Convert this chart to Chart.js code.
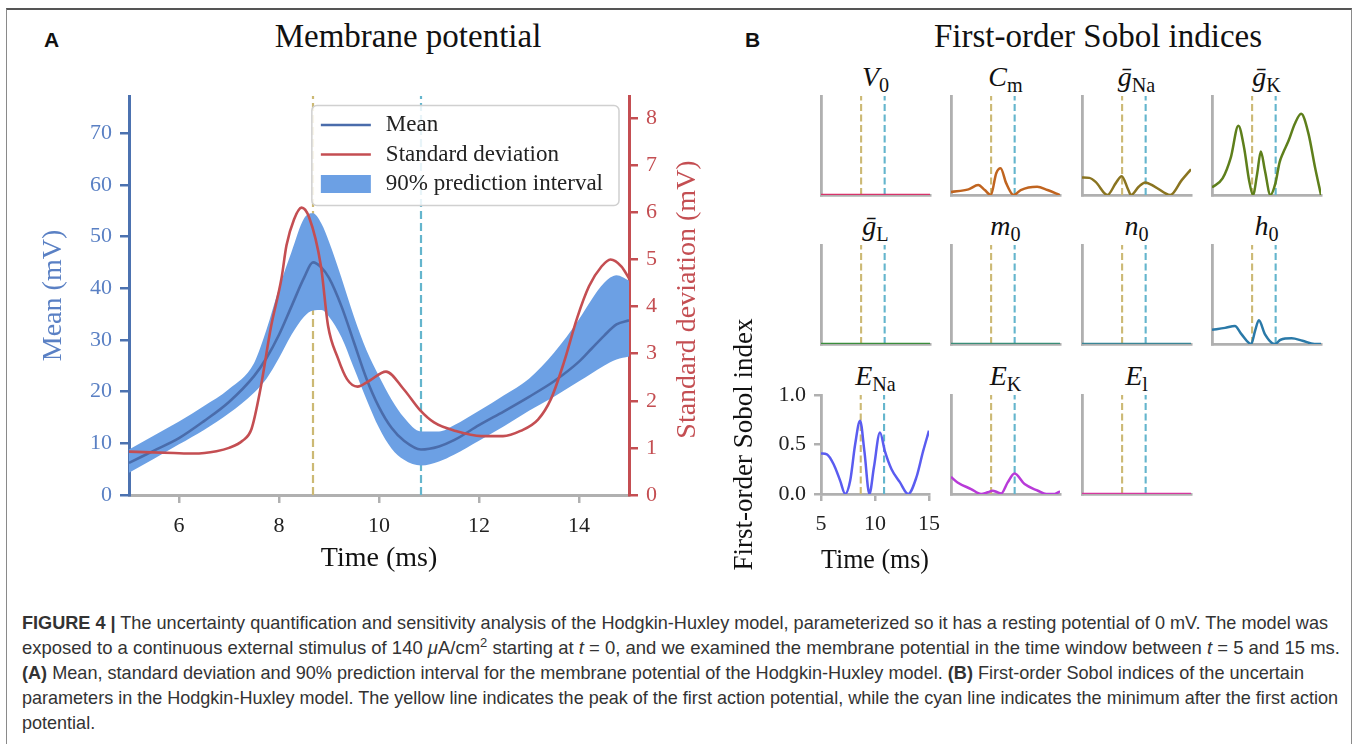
<!DOCTYPE html>
<html>
<head>
<meta charset="utf-8">
<script src="https://cdn.jsdelivr.net/npm/chart.js@4.4.1/dist/chart.umd.min.js"></script>
<style>
  body { margin: 0; width: 1358px; height: 744px; overflow: hidden; background: #fff; position: relative; font-family: "Liberation Serif", serif; }
  .frame { position: absolute; left: 6px; top: 8px; width: 1344px; height: 800px; border: 1.5px solid #8a8a8a; border-top: 2px solid #555; }
  canvas { position: absolute; }
  .lbl { position: absolute; font: bold 21px "Liberation Sans", Arial, sans-serif; line-height: 21px; color: #111; }
  .ttl { position: absolute; font-size: 33px; line-height: 33px; color: #111; transform: translateX(-50%); white-space: nowrap; }
  .sub { position: absolute; font-size: 28px; line-height: 28px; font-style: italic; transform: translateX(-50%); white-space: nowrap; color: #111; }
  .sub span { font-style: normal; font-size: 0.72em; position: relative; top: 0.3em; }
  .cap { position: absolute; left: 22px; font-family: "Liberation Sans Narrow", "Liberation Sans", Arial, sans-serif; font-size: 18.5px; line-height: 25px; color: #333; white-space: nowrap; transform-origin: 0 50%; }
  .cap sup { font-size: 0.7em; line-height: 0; }
</style>
</head>
<body>
<div class="frame"></div>

<div class="lbl" style="left:44px;top:29px">A</div>
<div class="lbl" style="left:745px;top:29px">B</div>
<div class="ttl" style="left:408px;top:20px">Membrane potential</div>
<div class="ttl" style="left:1098px;top:20px">First-order Sobol indices</div>

<canvas id="chartA" width="720" height="600" style="left:0;top:0;width:720px;height:600px"></canvas>
<div id="sobolBox"></div>

<div class="cap" style="top:610px" data-right="1328"><b>FIGURE 4 |</b> The uncertainty quantification and sensitivity analysis of the Hodgkin-Huxley model, parameterized so it has a resting potential of 0 mV. The model was</div>
<div class="cap" style="top:635px" data-right="1340">exposed to a continuous external stimulus of 140 <i>μ</i>A/cm<sup>2</sup> starting at <i>t</i> = 0, and we examined the membrane potential in the time window between <i>t</i> = 5 and 15 ms.</div>
<div class="cap" style="top:660px" data-right="1304"><b>(A)</b> Mean, standard deviation and 90% prediction interval for the membrane potential of the Hodgkin-Huxley model. <b>(B)</b> First-order Sobol indices of the uncertain</div>
<div class="cap" style="top:685px" data-right="1338">parameters in the Hodgkin-Huxley model. The yellow line indicates the peak of the first action potential, while the cyan line indicates the minimum after the first action</div>
<div class="cap" style="top:710px">potential.</div>

<script>
// ---- panel A: membrane potential ----
const timeA  = [5, 5.5, 6, 6.5, 7, 7.5, 7.75, 8, 8.25, 8.5, 8.68, 8.85, 9, 9.25, 9.5, 9.75, 10, 10.25, 10.5, 10.84, 11.2, 11.5, 12, 12.5, 13, 13.5, 14, 14.25, 14.5, 14.75, 15];
const meanA  = [6.2, 8.6, 11, 14.3, 18, 23, 26.5, 31, 36.5, 42, 45, 44, 42, 36.5, 29.5, 22.5, 17, 13, 10.5, 8.8, 9.4, 10.6, 13.5, 16.2, 19, 22, 25.8, 28.3, 30.8, 33, 33.8];
const lowerA = [4.3, 7, 9.8, 12.6, 15.8, 19.8, 22.5, 26.5, 31, 34.5, 35.7, 35.8, 34.5, 30.5, 24.5, 18.5, 13, 9, 6.8, 5.7, 6.5, 7.8, 10.5, 13.3, 16.3, 19, 22, 23.5, 25, 26.2, 26.8];
const upperA = [8.8, 11.5, 14.2, 17.2, 20.5, 25.5, 32, 40, 47, 53.5, 54.5, 52.5, 49, 42, 34.5, 28, 23, 18.5, 15, 12.3, 12.3, 13.5, 16.3, 19.3, 22.5, 27.5, 34, 37.8, 41, 42.5, 41.5];
const timeSd = [5, 5.9, 6.3, 6.75, 7, 7.27, 7.45, 7.62, 7.84, 8.05, 8.15, 8.3, 8.45, 8.6, 8.84, 8.98, 9.18, 9.36, 9.57, 9.8, 10.14, 10.49, 10.83, 11.1, 11.53, 12.05, 12.48, 12.83, 13.18, 13.44, 13.7, 13.96, 14.2, 14.45, 14.63, 14.85, 15];
const sdA    = [0.92, 0.89, 0.88, 0.93, 1.0, 1.15, 1.4, 2.2, 3.57, 4.6, 5.3, 5.85, 6.1, 5.9, 4.85, 3.6, 2.9, 2.46, 2.3, 2.42, 2.62, 2.25, 1.79, 1.54, 1.36, 1.25, 1.25, 1.36, 1.6, 2.04, 2.82, 3.75, 4.43, 4.85, 5.0, 4.85, 4.6];
const peakTime = 8.68;   // yellow line
const minTime = 10.84;   // cyan line
const xTicksA = [6, 8, 10, 12, 14];
const meanTicks = [0, 10, 20, 30, 40, 50, 60, 70];
const sdTicks = [0, 1, 2, 3, 4, 5, 6, 7, 8];
const legendLabels = ["Mean", "Standard deviation", "90% prediction interval"];

// ---- panel B: first-order Sobol indices ----
const sobolTimeV0 = [5, 15], sobolV0 = [0, 0];
const sobolTimeCm = [5, 6.6, 7.5, 8.1, 8.65, 9.15, 9.55, 10.06, 10.75, 11.4, 12.9, 13.85, 15];
const sobolCm     = [0.03, 0.057, 0.1, 0.05, 0, 0.22, 0.27, 0.12, 0, 0.05, 0.083, 0.05, 0];
const sobolTimeGNa = [5, 5.67, 6.27, 7.33, 8.1, 8.64, 9.25, 9.5, 10.2, 10.8, 11.7, 13.1, 14.15, 15];
const sobolGNa     = [0.177, 0.173, 0.13, 0, 0.12, 0.19, 0.05, 0, 0.083, 0.127, 0.083, 0, 0.15, 0.26];
const sobolTimeGK = [5, 5.97, 6.73, 7.42, 7.94, 8.4, 8.76, 9.15, 9.48, 9.85, 10.36, 10.82, 11.2, 11.5, 12.03, 12.6, 13.18, 13.85, 14.45, 15];
const sobolGK     = [0.077, 0.167, 0.38, 0.70, 0.48, 0.15, 0, 0.22, 0.44, 0.25, 0, 0.12, 0.33, 0.42, 0.55, 0.72, 0.82, 0.62, 0.28, 0];
const sobolTimeGL = [5, 15], sobolGL = [0, 0];
const sobolTimeM0 = [5, 15], sobolM0 = [0, 0];
const sobolTimeN0 = [5, 15], sobolN0 = [0, 0];
const sobolTimeH0 = [5, 6.2, 7.1, 7.7, 8.6, 8.95, 9.3, 9.85, 10.75, 11.3, 12.3, 13.3, 14.4, 15];
const sobolH0     = [0.143, 0.163, 0.183, 0.1, 0, 0.133, 0.24, 0.1, 0, 0.043, 0.057, 0.033, 0, 0];
const sobolTimeENa = [5, 5.55, 6.17, 6.78, 7.24, 7.7, 8.16, 8.62, 9.02, 9.48, 9.9, 10.46, 10.92, 11.53, 12.3, 13.07, 13.83, 14.45, 15];
const sobolENa     = [0.41, 0.40, 0.3, 0.133, 0, 0.133, 0.5, 0.74, 0.43, 0, 0.27, 0.62, 0.43, 0.25, 0.12, 0, 0.167, 0.43, 0.64];
const sobolTimeEK = [5, 5.6, 6.84, 7.76, 8.37, 8.83, 9.2, 9.6, 10.2, 10.83, 11.75, 12.98, 13.74, 14.5, 15];
const sobolEK     = [0.173, 0.117, 0.05, 0, 0.017, 0.033, 0.02, 0.005, 0.117, 0.207, 0.1, 0.033, 0, 0, 0.027];
const sobolTimeEl = [5, 15], sobolEl = [0, 0];
const sobolXTicks = [5, 10, 15];
const sobolYTicks = [0, 0.5, 1];
const sobolYLabels = ["0.0", "0.5", "1.0"];

// titles as html: [italic symbol, upright subscript]
const paramTitles = [
  ["V", "0"], ["C", "m"], ["ḡ", "Na"], ["ḡ", "K"],
  ["ḡ", "L"], ["m", "0"], ["n", "0"], ["h", "0"],
  ["E", "Na"], ["E", "K"], ["E", "l"]
];
const paramTimes = [sobolTimeV0, sobolTimeCm, sobolTimeGNa, sobolTimeGK, sobolTimeGL, sobolTimeM0, sobolTimeN0, sobolTimeH0, sobolTimeENa, sobolTimeEK, sobolTimeEl];
const paramValues = [sobolV0, sobolCm, sobolGNa, sobolGK, sobolGL, sobolM0, sobolN0, sobolH0, sobolENa, sobolEK, sobolEl];
const paramColors = ["#d8336b", "#c0641f", "#8a7420", "#5e7f1b", "#3a8e3c", "#3a8e78", "#3a8696", "#2a79a8", "#5a5cf0", "#b83ad8", "#d6389f"];

const BLUE = "#4c72b0", BLUE_TXT = "#5a80c4", RED = "#c44e52", BAND = "rgb(108,160,228)";
const YELLOW = "#ccb974", CYAN = "#64b5cd", GRAY = "#b0b0b0";
const SERIF = "'Liberation Serif', serif";

Chart.defaults.font.family = SERIF;
Chart.defaults.color = "#222";

const pts = (xs, ys) => xs.map((x, i) => ({ x, y: ys[i] }));
const fixTicks = vals => scale => { scale.ticks = vals.map(v => ({ value: v })); };

const boxLegend = {
  id: "boxLegend",
  afterDraw(chart){
    const { ctx, chartArea } = chart;
    const ds = chart.data.datasets;
    const items = legendLabels.map(l => ds.find(d => d.label === l));
    ctx.save();
    ctx.font = "23px " + SERIF;
    const textW = Math.max(...items.map(d => ctx.measureText(d.label).width));
    const padX = 9, handle = 50, gap = 15, rowH = 29.5;
    const w = padX + handle + gap + textW + 16;
    const h = 100;
    const x = chartArea.right - 10 - w, y = chartArea.top + 9.5;
    ctx.fillStyle = "rgba(255,255,255,0.85)";
    ctx.strokeStyle = "#d0d0d0";
    ctx.lineWidth = 1.5;
    ctx.beginPath();
    ctx.roundRect(x, y, w, h, 5);
    ctx.fill();
    ctx.stroke();
    ctx.textBaseline = "middle";
    items.forEach((d, i) => {
      const cy = y + 19.5 + i * rowH;
      if (d.fill) {
        ctx.fillStyle = d.backgroundColor;
        ctx.fillRect(x + padX, cy - 9, handle, 18);
      } else {
        ctx.strokeStyle = d.borderColor;
        ctx.lineWidth = d.borderWidth;
        ctx.beginPath();
        ctx.moveTo(x + padX, cy);
        ctx.lineTo(x + padX + handle, cy);
        ctx.stroke();
      }
      ctx.fillStyle = "#222";
      ctx.fillText(d.label, x + padX + handle + gap, cy);
    });
    ctx.restore();
  }
};

// twinx label reads bottom-to-top like matplotlib
const rightTitle = {
  id: "rightTitle",
  afterDraw(chart){
    const s = chart.scales.y2, ctx = chart.ctx;
    ctx.save();
    ctx.translate(s.right - 32, (s.top + s.bottom) / 2 + 4);
    ctx.rotate(-Math.PI / 2);
    ctx.font = "28px " + SERIF;
    ctx.fillStyle = RED;
    ctx.textAlign = "center";
    ctx.textBaseline = "middle";
    ctx.fillText("Standard deviation (mV)", 0, 0);
    ctx.restore();
  }
};

const vline = (t, top, color, dash, axis) => ({
  label: "", data: [{ x: t, y: 0 }, { x: t, y: top }], yAxisID: axis,
  borderColor: color, borderWidth: 2.2, borderDash: dash, pointRadius: 0, order: 3
});

new Chart(document.getElementById("chartA"), {
  type: "line",
  data: {
    datasets: [
      { label: "Standard deviation", data: pts(timeSd, sdA), yAxisID: "y2", borderColor: RED, borderWidth: 2.6,
        pointRadius: 0, cubicInterpolationMode: "monotone", order: 0 },
      { label: "Mean", data: pts(timeA, meanA), yAxisID: "y", borderColor: "#4a6cab", borderWidth: 2.6,
        pointRadius: 0, cubicInterpolationMode: "monotone", order: 1 },
      { label: "lower", data: pts(timeA, lowerA), yAxisID: "y", borderWidth: 0, pointRadius: 0,
        cubicInterpolationMode: "monotone", fill: false, order: 2 },
      { label: "90% prediction interval", data: pts(timeA, upperA), yAxisID: "y", borderWidth: 0, pointRadius: 0,
        cubicInterpolationMode: "monotone", backgroundColor: BAND, fill: "-1", order: 2 },
      vline(peakTime, 77.2, YELLOW, [8, 4], "y"),
      vline(minTime, 77.2, CYAN, [8, 4], "y")
    ]
  },
  options: {
    responsive: false,
    animation: false,
    devicePixelRatio: 1,
    layout: { padding: { left: 0, top: 96, right: 0, bottom: 0 } },
    plugins: { legend: { display: false }, tooltip: { enabled: false } },
    scales: {
      x: {
        type: "linear", min: 5, max: 15,
        afterBuildTicks: fixTicks(xTicksA),
        afterFit: s => { s.height = 105; },
        ticks: { font: { size: 22 }, color: "#222", padding: 10, maxRotation: 0 },
        grid: { drawOnChartArea: false, tickLength: 8, color: GRAY, lineWidth: 2.5 },
        border: { color: GRAY, width: 3 },
        title: { display: true, text: "Time (ms)", font: { size: 28 }, color: "#111", padding: { top: 0, bottom: 25 } }
      },
      y: {
        position: "left", min: 0, max: 77.2,
        afterBuildTicks: fixTicks(meanTicks),
        afterFit: s => { s.width = 129; },
        ticks: { font: { size: 22 }, color: BLUE_TXT, padding: 8 },
        grid: { drawOnChartArea: false, tickLength: 9, color: BLUE, lineWidth: 2.5 },
        border: { color: BLUE, width: 3 },
        title: { display: true, text: "Mean (mV)", font: { size: 28 }, color: BLUE_TXT, padding: { top: 37, bottom: 0 } }
      },
      y2: {
        position: "right", min: 0, max: 8.47,
        afterBuildTicks: fixTicks(sdTicks),
        afterFit: s => { s.width = 91; },
        ticks: { font: { size: 22 }, color: RED, padding: 8 },
        grid: { drawOnChartArea: false, tickLength: 9, color: RED, lineWidth: 2.5 },
        border: { color: RED, width: 3 }
      }
    }
  },
  plugins: [boxLegend, rightTitle]
});

// ---- small multiples ----
const colX = [821, 951, 1082, 1212];
const rowY = [96, 245, 395];
const W = 109, H = 99;
const box = document.getElementById("sobolBox");

paramTitles.forEach((tt, i) => {
  const col = i % 4, row = Math.floor(i / 4);
  const x0 = colX[col], y0 = rowY[row];
  const withAxes = i === 8;

  const t = document.createElement("div");
  t.className = "sub";
  t.style.left = (x0 + W / 2) + "px";
  t.style.top = (y0 - 33) + "px";
  t.innerHTML = tt[0] + "<span>" + tt[1] + "</span>";
  box.appendChild(t);

  const c = document.createElement("canvas");
  let left, top, cw, ch, pad;
  if (withAxes) {
    left = 725; top = 300; cw = 225; ch = 290;
    pad = { left: 0, top: y0 - top, right: left + cw - (x0 + W), bottom: 0 };
  } else {
    left = x0 - 6; top = y0 - 6; cw = W + 12; ch = H + 12;
    pad = { left: 6, top: 6, right: 6, bottom: 6 };
  }
  c.width = cw; c.height = ch;
  c.style.left = left + "px"; c.style.top = top + "px";
  c.style.width = cw + "px"; c.style.height = ch + "px";
  box.appendChild(c);

  const dash = [7, 3.5];
  new Chart(c, {
    type: "line",
    data: {
      datasets: [
        { label: tt.join(""), data: pts(paramTimes[i], paramValues[i]), borderColor: paramColors[i], borderWidth: 2.5,
          pointRadius: 0, cubicInterpolationMode: "monotone", order: 0 },
        { label: "", data: [{ x: peakTime, y: 0 }, { x: peakTime, y: 1 }], borderColor: YELLOW, borderWidth: 2.1, borderDash: dash, pointRadius: 0, order: 1 },
        { label: "", data: [{ x: minTime, y: 0 }, { x: minTime, y: 1 }], borderColor: CYAN, borderWidth: 2.1, borderDash: dash, pointRadius: 0, order: 1 }
      ]
    },
    options: {
      responsive: false,
      animation: false,
      devicePixelRatio: 1,
      layout: { padding: pad },
      plugins: { legend: { display: false }, tooltip: { enabled: false } },
      scales: {
        x: {
          type: "linear", min: 5, max: 15,
          afterBuildTicks: fixTicks(sobolXTicks),
          afterFit: s => { s.height = withAxes ? ch - pad.top - H : 0; },
          ticks: { display: withAxes, font: { size: 22 }, color: "#222", padding: 10, maxRotation: 0 },
          grid: { display: withAxes, drawOnChartArea: false, tickLength: 7, color: GRAY, lineWidth: 2.5 },
          border: { color: GRAY, width: 2.8 },
          title: { display: withAxes, text: "Time (ms)", font: { size: 28 }, color: "#111", padding: { top: 0, bottom: 13 } }
        },
        y: {
          min: 0, max: 1,
          afterBuildTicks: fixTicks(sobolYTicks),
          afterFit: s => { s.width = withAxes ? x0 - left : 0; },
          ticks: { display: withAxes, font: { size: 22 }, color: "#222", padding: 8, callback: (v, k) => sobolYLabels[k] },
          grid: { display: withAxes, drawOnChartArea: false, tickLength: 7, color: GRAY, lineWidth: 2.5 },
          border: { color: GRAY, width: 2.8 },
          title: { display: withAxes, text: "First-order Sobol index", font: { size: 27 }, color: "#111", padding: { top: 4, bottom: 0 } }
        }
      }
    }
  });
});

// fit caption lines to the original line lengths (condensed face)
document.fonts.ready.then(() => {
  const caps = [...document.querySelectorAll(".cap")];
  let last = 1;
  caps.forEach(el => {
    const r = el.dataset.right;
    if (r) {
      last = (Number(r) - 22) / el.getBoundingClientRect().width;
    }
    el.style.transform = "scaleX(" + last + ")";
  });
});
</script>
</body>
</html>
